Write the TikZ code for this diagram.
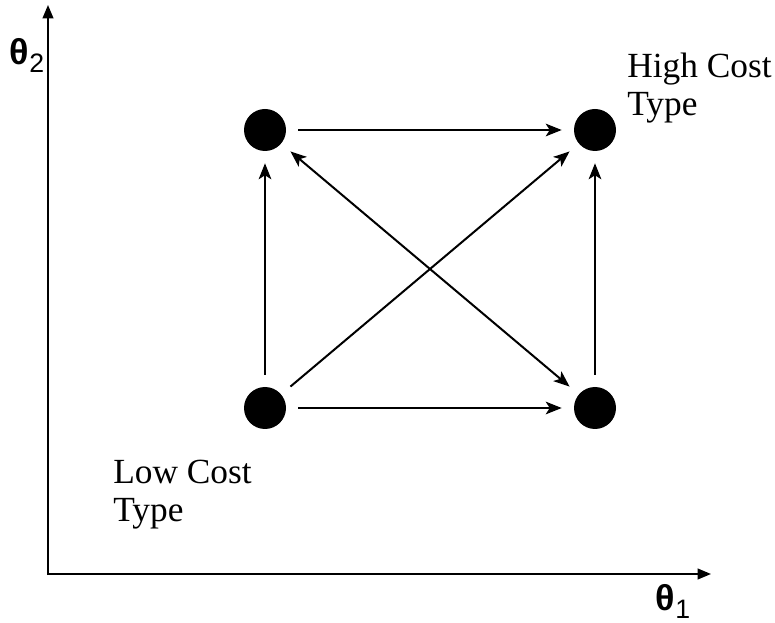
\documentclass[tikz,border=0pt]{standalone}
\usepackage{fontspec}
\setmainfont{Liberation Serif}
\newfontfamily\lsans{Liberation Sans}
\usetikzlibrary{arrows.meta}
\begin{document}
\begin{tikzpicture}[x=0.75pt,y=-0.75pt,
  dot/.style={circle,fill=black,draw=none,inner sep=0pt,minimum size=31.5pt},
  link/.style={line width=1.5pt,-{Stealth[length=12pt,width=9.5pt,inset=3pt]},shorten <=9pt,shorten >=9pt},
  axis/.style={line width=1.5pt,-{Triangle[length=10pt,width=8pt]}},
  lbl/.style={font=\fontsize{26.5}{28.5}\selectfont,align=left,inner sep=0pt,anchor=north west},
  axlbl/.style={font=\lsans\fontsize{27}{27}\selectfont,inner sep=0pt}]
\useasboundingbox (0,0) rectangle (775,623);
% axes
\coordinate (ytop) at (48,5);
\coordinate (xend) at (711,574);
\draw[axis] (48,575) -- (ytop);
\draw[axis] (47,574) -- (xend);
\node[axlbl] (t2) at (27,55) {\bfseries θ\raisebox{-6pt}{\mdseries\fontsize{20}{20}\selectfont 2}};
\node[axlbl] (t1) at (673,601) {\bfseries θ\raisebox{-6pt}{\mdseries\fontsize{20}{20}\selectfont 1}};
% dots
\node[dot] (tl) at (265,130) {};
\node[dot] (tr) at (595,130) {};
\node[dot] (bl) at (265,408) {};
\node[dot] (br) at (595,408) {};
% links
\draw[link] (tl) -- (tr);
\draw[link] (bl) -- (br);
\draw[link] (bl) -- (tl);
\draw[link] (br) -- (tr);
\draw[link] (bl) -- (tr);
\draw[link,{Stealth[length=12pt,width=9.5pt,inset=3pt]}-{Stealth[length=12pt,width=9.5pt,inset=3pt]}] (tl) -- (br);
% labels
\node[lbl] (hi) at (627,53) {High Cost\\Type};
\node[lbl] (lo) at (113,460) {Low Cost\\Type};
\end{tikzpicture}
\end{document}
